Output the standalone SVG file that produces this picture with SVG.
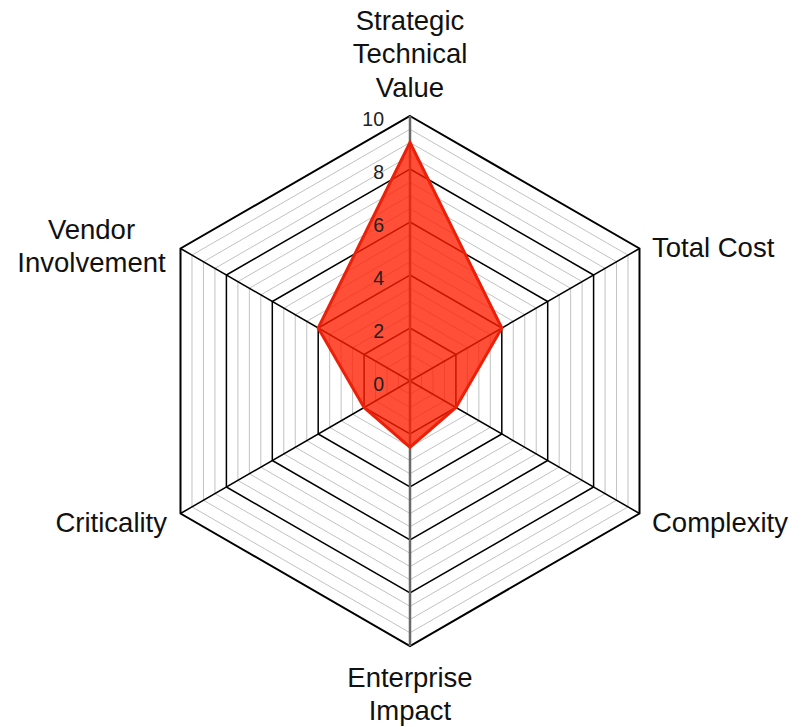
<svg xmlns="http://www.w3.org/2000/svg" xmlns:xlink="http://www.w3.org/1999/xlink" width="802" height="727" viewBox="0 0 802 727">
<style>
  .minor { fill: none; stroke: #c2c2c2; stroke-width: 1; }
  .major { fill: none; stroke: #000; stroke-width: 1.5; }
  .outer { fill: none; stroke: #000; stroke-width: 2; }
  .spoke { stroke: #000; stroke-width: 1.5; }
  .vaxis { stroke: #6a6a6a; stroke-width: 2.5; }
  .tick { font-family: "Liberation Sans", Arial, sans-serif; font-size: 19.5px; fill: #222; text-anchor: end; }
  .lbl { font-family: "Liberation Sans", Arial, sans-serif; font-size: 27.5px; fill: #111; }
  .data { fill: #ff1e00; fill-opacity: 0.78; stroke: #ec2008; stroke-width: 3; stroke-linejoin: miter; }
</style>
<defs>
  <polygon id="hex" points="0,-1 0.8660254,-0.5 0.8660254,0.5 0,1 -0.8660254,0.5 -0.8660254,-0.5" vector-effect="non-scaling-stroke"/>
</defs>
<rect width="802" height="727" fill="#fff"/>
<g id="grid" transform="translate(410,381)">
  <use xlink:href="#hex" class="minor" transform="scale(13.25)"/>
  <use xlink:href="#hex" class="minor" transform="scale(26.5)"/>
  <use xlink:href="#hex" class="minor" transform="scale(39.75)"/>
  <use xlink:href="#hex" class="minor" transform="scale(66.25)"/>
  <use xlink:href="#hex" class="minor" transform="scale(79.5)"/>
  <use xlink:href="#hex" class="minor" transform="scale(92.75)"/>
  <use xlink:href="#hex" class="minor" transform="scale(119.25)"/>
  <use xlink:href="#hex" class="minor" transform="scale(132.5)"/>
  <use xlink:href="#hex" class="minor" transform="scale(145.75)"/>
  <use xlink:href="#hex" class="minor" transform="scale(172.25)"/>
  <use xlink:href="#hex" class="minor" transform="scale(185.5)"/>
  <use xlink:href="#hex" class="minor" transform="scale(198.75)"/>
  <use xlink:href="#hex" class="minor" transform="scale(225.25)"/>
  <use xlink:href="#hex" class="minor" transform="scale(238.5)"/>
  <use xlink:href="#hex" class="minor" transform="scale(251.75)"/>
  <use xlink:href="#hex" class="major" transform="scale(53)"/>
  <use xlink:href="#hex" class="major" transform="scale(106)"/>
  <use xlink:href="#hex" class="major" transform="scale(159)"/>
  <use xlink:href="#hex" class="major" transform="scale(212)"/>
  <use xlink:href="#hex" class="outer" transform="scale(265)"/>
</g>
<g id="connectors">
  <line class="spoke" x1="410" y1="381" x2="639.5" y2="248.5"/>
  <line class="spoke" x1="410" y1="381" x2="639.5" y2="513.5"/>
  <line class="spoke" x1="410" y1="381" x2="180.5" y2="513.5"/>
  <line class="spoke" x1="410" y1="381" x2="180.5" y2="248.5"/>
  <line class="vaxis" x1="410" y1="116" x2="410" y2="646"/>
</g>
<g id="series">
  <polygon class="data" points="410,142.5 501.8,328 455.9,407.5 410,447.25 364.1,407.5 318.2,328"/>
</g>
<g id="ticks">
  <text class="tick" x="384" y="126">10</text>
  <text class="tick" x="384" y="179">8</text>
  <text class="tick" x="384" y="232">6</text>
  <text class="tick" x="384" y="285">4</text>
  <text class="tick" x="384" y="338">2</text>
  <text class="tick" x="384" y="391">0</text>
</g>
<g id="node-strategic">
  <text class="lbl" x="410" y="30" text-anchor="middle">Strategic</text>
  <text class="lbl" x="410" y="63" text-anchor="middle">Technical</text>
  <text class="lbl" x="410" y="97" text-anchor="middle">Value</text>
</g>
<g id="node-total-cost">
  <text class="lbl" x="652" y="257">Total Cost</text>
</g>
<g id="node-complexity">
  <text class="lbl" x="652" y="532">Complexity</text>
</g>
<g id="node-enterprise">
  <text class="lbl" x="410" y="687" text-anchor="middle">Enterprise</text>
  <text class="lbl" x="410" y="720" text-anchor="middle">Impact</text>
</g>
<g id="node-criticality">
  <text class="lbl" x="167" y="532" text-anchor="end">Criticality</text>
</g>
<g id="node-vendor">
  <text class="lbl" x="91.5" y="239" text-anchor="middle">Vendor</text>
  <text class="lbl" x="91.5" y="272" text-anchor="middle">Involvement</text>
</g>
</svg>
